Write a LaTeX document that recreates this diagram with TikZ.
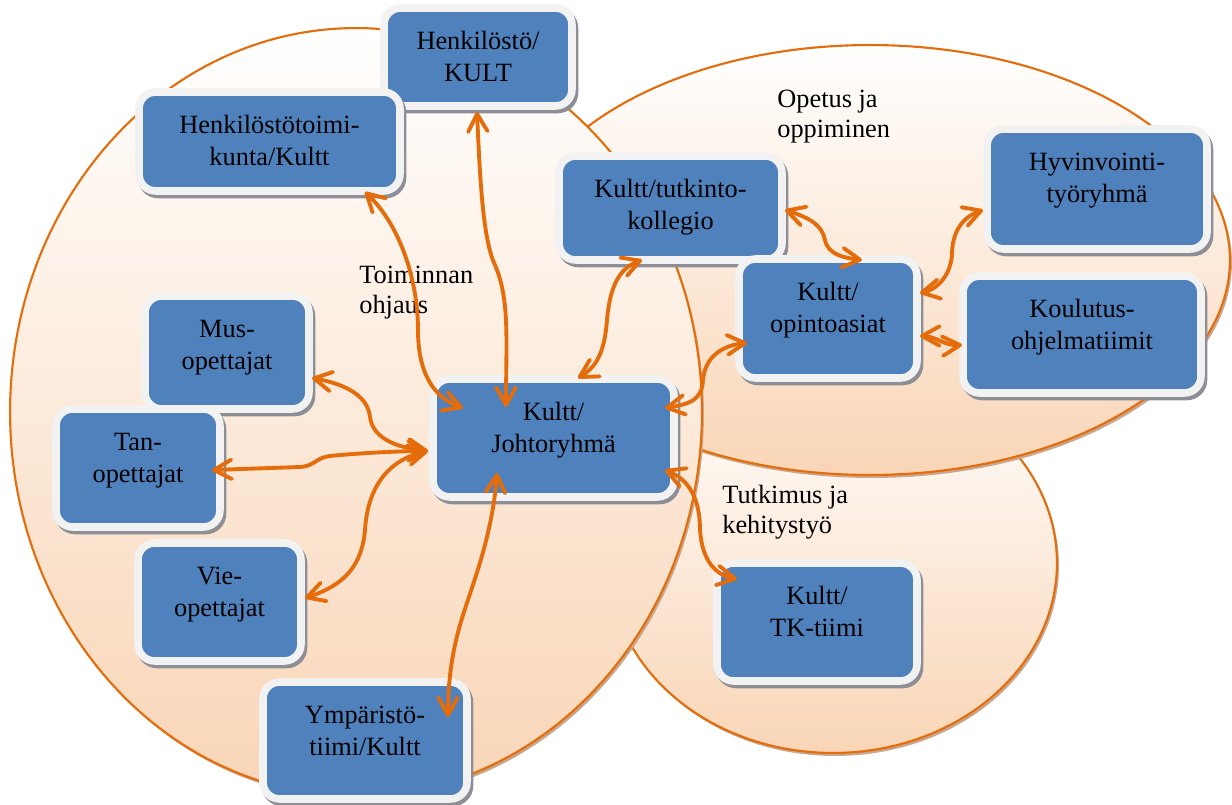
\documentclass[tikz,border=0pt]{standalone}
\usepackage{fontspec}
\setmainfont{Liberation Serif}
\usetikzlibrary{arrows.meta,calc}

\definecolor{boxblue}{HTML}{4F81BD}
\definecolor{boxrim}{HTML}{F2F2F2}
\definecolor{boxshade}{HTML}{8E8E96}
\definecolor{rimorange}{HTML}{E46C0A}
\definecolor{arroworange}{HTML}{E46C0A}
\definecolor{peach}{HTML}{F9D5B6}
\definecolor{areashade}{HTML}{C9A68C}

\tikzset{
  box/.style={rounded corners=9.5pt, fill=boxblue, draw=boxrim, line width=4.3pt,
    outer sep=0pt, inner sep=0pt,
    preaction={fill=boxshade, draw=boxshade, line width=4.3pt,
      transform canvas={shift={(2.5,3.5)}}}},
  boxtext/.style={anchor=north, align=center, inner sep=0pt,
    font=\fontsize{15}{18.2}\selectfont},
  arealabel/.style={anchor=north west, align=left, inner sep=0pt,
    font=\fontsize{15}{17}\selectfont},
  area/.style={draw=rimorange, line width=1.2pt, top color=white, bottom color=peach,
    preaction={fill=areashade, transform canvas={shift={(2,3)}}}},
  tipend/.style={Straight Barb[length=10pt,width=11pt,round]},
  conn/.style={draw=arroworange, line width=2.2pt, line cap=round,
    {Straight Barb[length=10pt,width=11pt,round]}-{Straight Barb[length=10pt,width=11pt,round]}},
}

\begin{document}
\begin{tikzpicture}[x=0.02cm,y=-0.02cm]
\useasboundingbox (0,0) rectangle (1232,805);

% overlapping areas
\path[area] (833,563) ellipse [x radius=4.48cm, y radius=3.8cm];
\path[area] (870,260) ellipse [x radius=7.2cm, y radius=4.3cm];
\path[area] (356,412) ellipse [x radius=6.92cm, y radius=7.68cm];

% area titles
\node[arealabel] (lab-ohjaus) at (359,262) {\strut Toiminnan\\ohjaus};
\node[arealabel] (lab-opetus) at (777,86) {\strut Opetus ja\\oppiminen};
\node[arealabel] (lab-tutkimus) at (722,482) {\strut Tutkimus ja\\kehitystyö};

% boxes
\node[box, minimum width=3.76cm, minimum height=1.96cm] (hk) at (478,57) {};
\node[boxtext] (hk-t) at ($(hk.north)+(0,18.5)$) {\strut Henkilöstö/\\KULT};

\node[box, minimum width=5.22cm, minimum height=1.98cm] (htk) at (269.5,141.5) {};
\node[boxtext] (htk-t) at ($(htk.north)+(0,18.5)$) {\strut Henkilöstötoimi-\\kunta/Kultt};

\node[box, minimum width=4.46cm, minimum height=2.08cm] (tk) at (670.5,208) {};
\node[boxtext] (tk-t) at ($(tk.north)+(0,18.5)$) {\strut Kultt/tutkinto-\\kollegio};

\node[box, minimum width=3.56cm, minimum height=2.38cm] (op) at (828,318.5) {};
\node[boxtext] (op-t) at ($(op.north)+(0,18.5)$) {\strut Kultt/\\opintoasiat};

\node[box, minimum width=4.40cm, minimum height=2.40cm] (hy) at (1097,189) {};
\node[boxtext] (hy-t) at ($(hy.north)+(0,18.5)$) {\strut Hyvinvointi-\\työryhmä};

\node[box, minimum width=4.76cm, minimum height=2.34cm] (ko) at (1082,334.5) {};
\node[boxtext] (ko-t) at ($(ko.north)+(0,18.5)$) {\strut Koulutus-\\ohjelmatiimit};

\node[box, minimum width=4.82cm, minimum height=2.36cm] (jr) at (553.5,438) {};
\node[boxtext] (jr-t) at ($(jr.north)+(0,18.5)$) {\strut Kultt/\\Johtoryhmä};

\node[box, minimum width=3.28cm, minimum height=2.26cm] (mus) at (227,352.5) {};
\node[boxtext] (mus-t) at ($(mus.north)+(0,18.5)$) {\strut Mus-\\opettajat};

\node[box, minimum width=3.28cm, minimum height=2.36cm] (tan) at (138,468) {};
\node[boxtext] (tan-t) at ($(tan.north)+(0,18.5)$) {\strut Tan-\\opettajat};

\node[box, minimum width=3.26cm, minimum height=2.36cm] (vie) at (219.5,602) {};
\node[boxtext] (vie-t) at ($(vie.north)+(0,18.5)$) {\strut Vie-\\opettajat};

\node[box, minimum width=4.08cm, minimum height=2.34cm] (ym) at (365,740.5) {};
\node[boxtext] (ym-t) at ($(ym.north)+(0,18.5)$) {\strut Ympäristö-\\tiimi/Kultt};

\node[box, minimum width=4.00cm, minimum height=2.36cm] (tkt) at (817,622) {};
\node[boxtext] (tkt-t) at ($(tkt.north)+(0,18.5)$) {\strut Kultt/\\TK-tiimi};

% connectors
\draw[conn] ($(htk)+(95.5,50.5)$) .. controls (400,225) and (418,280) .. (418,330)
  .. controls (418,375) and (435,398) .. ($(jr)+(-90.5,-30)$);
\draw[conn] ($(hk)+(-1,55)$) .. controls (480,180) and (483,240) .. (495,265)
  .. controls (510,300) and (506,340) .. ($(jr)+(-47.5,-31)$);
\draw[conn] ($(jr)+(24.5,-60)$) .. controls (600,365) and (605,345) .. (607,320)
  .. controls (610,285) and (620,268) .. ($(tk)+(-28.5,52)$);
\draw[conn] ($(jr)+(111.5,-30)$) .. controls (690,404) and (702,400) .. (703,380)
  .. controls (705,355) and (725,345) .. ($(op)+(-81,24.5)$);
\draw[conn] ($(tk)+(114.5,2)$) .. controls (810,218) and (822,225) .. (825,240)
  .. controls (828,255) and (845,258) .. ($(op)+(34,-58.5)$);
\draw[conn] ($(hy)+(-114,21)$) .. controls (960,218) and (952,235) .. (952,255)
  .. controls (950,278) and (935,290) .. ($(op)+(92,-25.5)$);
\draw[conn] ($(op)+(92,17.5)$) .. controls (935,336) and (945,346) .. ($(ko)+(-120,10.5)$);
\draw[conn] ($(jr)+(111.5,32)$) .. controls (690,480) and (700,500) .. (700,530)
  .. controls (702,560) and (715,575) .. ($(tkt)+(-80,-43)$);
\draw[conn] ($(mus)+(85,25.5)$) .. controls (350,385) and (368,398) .. (370,417)
  .. controls (373,440) and (400,448) .. ($(jr)+(-125.5,13)$);
\draw[conn] ($(tan)+(74,2)$) -- (300,467) .. controls (315,466) and (315,458) .. (330,456)
  .. controls (360,453) and (400,451) .. ($(jr)+(-125.5,13)$);
\draw[conn] ($(vie)+(85.5,-4)$) .. controls (345,585) and (362,565) .. (365,530)
  .. controls (368,480) and (395,458) .. ($(jr)+(-125.5,13)$);
\draw[conn] ($(jr)+(-56.5,35)$) .. controls (492,540) and (470,590) .. (460,625)
  .. controls (450,660) and (448,690) .. ($(ym)+(83,-23.5)$);
\end{tikzpicture}
\end{document}
